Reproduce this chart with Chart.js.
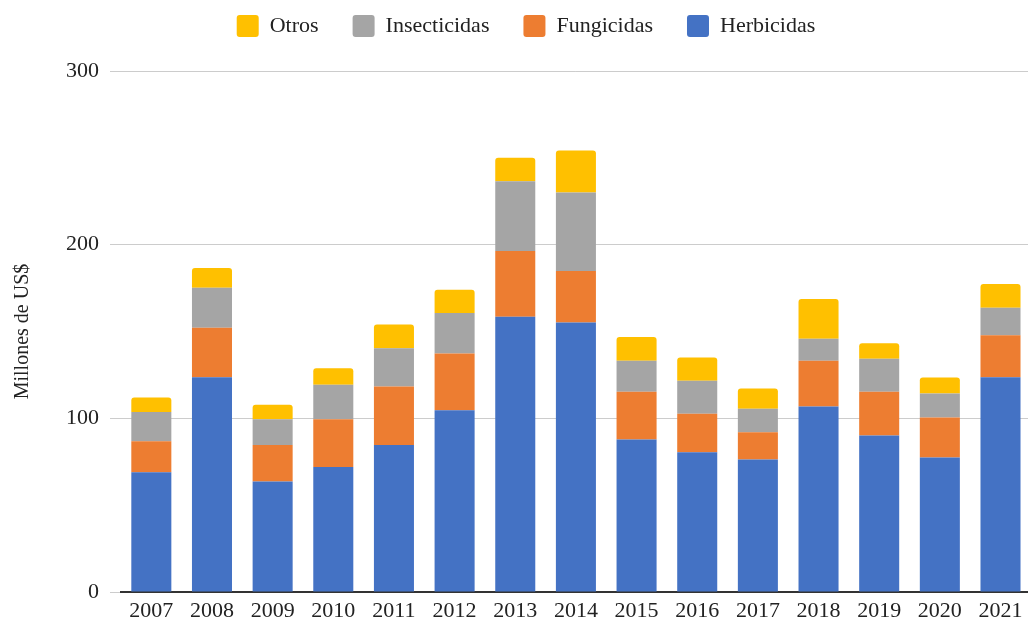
<!DOCTYPE html>
<html><head><meta charset="utf-8">
<script src="https://cdn.jsdelivr.net/npm/chart.js@4/dist/chart.umd.min.js"></script>
<style>html,body{margin:0;padding:0;overflow:hidden;background:#fff;width:1028px;height:622px}
#wrap{width:1031px;height:622px}</style></head>
<body><div id="wrap"><canvas id="c" width="1031" height="622" style="width:1031px;height:622px"></canvas></div>
<script>
const years = ['2007','2008','2009','2010','2011','2012','2013','2014','2015','2016','2017','2018','2019','2020','2021'];
const herbicidas = [69.0,123.7,63.6,72.0,84.7,104.7,158.5,155.2,87.8,80.5,76.3,106.8,90.1,77.4,123.7];
const fungicidas = [17.8,28.5,21.1,27.5,33.6,32.7,37.8,29.6,27.5,22.1,15.7,26.3,25.2,23.1,24.2];
const insecticidas = [16.9,23.0,14.8,19.8,22.1,23.2,40.2,45.2,17.8,19.0,13.5,12.7,19.0,13.8,15.8];
const otros = [8.3,11.4,8.3,9.6,13.7,13.5,13.5,24.2,13.7,13.4,11.7,22.9,9.0,9.2,13.6];
const yTicks = [0,100,200,300];

const FONT = "'Liberation Serif', 'Times New Roman', serif";
const TXT = '#222';
function ds(label, data, color){
  return {label, data, backgroundColor: color, borderColor: color, borderWidth: 0,
    borderRadius: 3, borderSkipped: 'start', categoryPercentage: 1, barPercentage: 0.66};
}
const legendGap = {
  id: 'legendGap',
  beforeInit(chart){
    const orig = chart.legend.fit;
    chart.legend.fit = function(){ orig.call(this); this.height += 24; };
  },
  afterLayout(chart){
    if (chart.legend) { chart.legend.left += 21; }
  }
};
new Chart(document.getElementById('c'), {
  type: 'bar',
  data: {
    labels: years,
    datasets: [
      ds('Herbicidas', herbicidas, '#4472C4'),
      ds('Fungicidas', fungicidas, '#ED7D31'),
      ds('Insecticidas', insecticidas, '#A5A5A5'),
      ds('Otros', otros, '#FFC000')
    ]
  },
  plugins: [legendGap],
  options: {
    responsive: false,
    animation: false,
    layout: {padding: {top: -19, left: 0, right: 0, bottom: -9}},
    plugins: {
      tooltip: {enabled: false},
      legend: {
        position: 'top',
        reverse: true,
        labels: {
          boxWidth: 22, boxHeight: 22, useBorderRadius: true, borderRadius: 3,
          padding: 34, color: TXT, font: {family: FONT, size: 22}
        }
      }
    },
    scales: {
      x: {
        stacked: true,
        grid: {display: false, drawTicks: false},
        border: {display: true, color: '#333', width: 2},
        ticks: {color: TXT, padding: 8.5, font: {family: FONT, size: 22, lineHeight: 1}}
      },
      y: {
        stacked: true,
        min: 0, max: 300,
        afterFit(scale){ scale.width = 121; },
        afterBuildTicks(scale){ scale.ticks = yTicks.map(v => ({value: v})); },
        grid: {color: '#cccccc', lineWidth: 1, tickLength: 11, drawTicks: true},
        border: {display: false},
        ticks: {color: TXT, padding: 11, font: {family: FONT, size: 22}},
        title: {display: true, text: 'Millones de US$', color: TXT, font: {family: FONT, size: 20}, padding: {top: 11, bottom: 0}}
      }
    }
  }
});
</script></body></html>
